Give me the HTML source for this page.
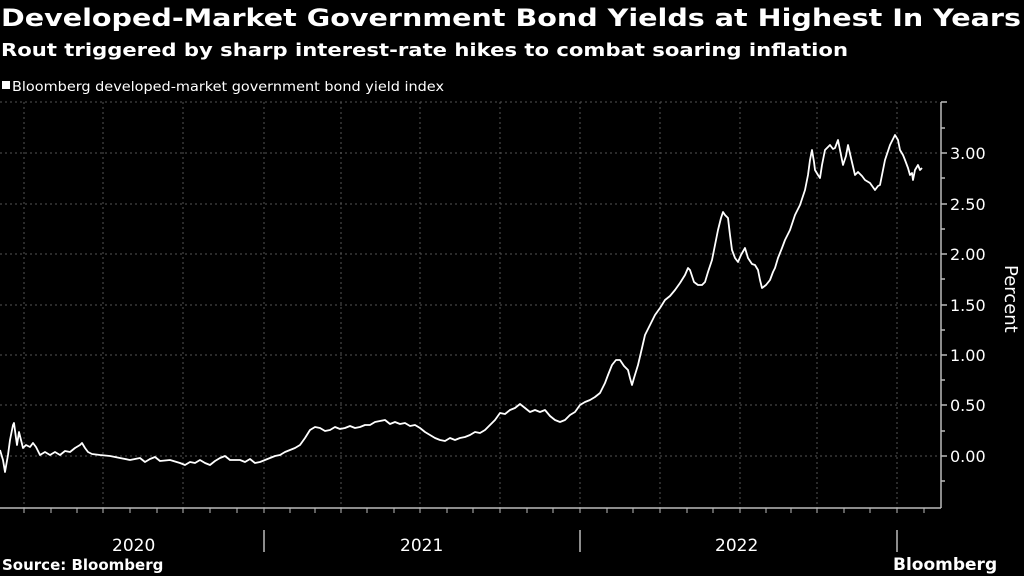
<!DOCTYPE html>
<html><head><meta charset="utf-8"><style>
html,body{margin:0;padding:0;background:#000;width:1024px;height:576px;overflow:hidden}
svg{display:block}
text{font-family:"DejaVu Sans","Liberation Sans",sans-serif;fill:#fff}
</style></head><body>
<svg width="1024" height="576" viewBox="0 0 1024 576">
<text x="1" y="26" font-size="24" font-weight="bold" textLength="1020" lengthAdjust="spacingAndGlyphs">Developed-Market Government Bond Yields at Highest In Years</text>
<text x="1" y="56" font-size="18" font-weight="bold" textLength="847" lengthAdjust="spacingAndGlyphs">Rout triggered by sharp interest-rate hikes to combat soaring inflation</text>
<rect x="2" y="81" width="8" height="8" fill="#fff"/>
<text x="12" y="91" font-size="13" fill="#ddd" textLength="432" lengthAdjust="spacingAndGlyphs">Bloomberg developed-market government bond yield index</text>
<g stroke="#555" stroke-width="1" stroke-dasharray="2,3">
<line x1="0" y1="102" x2="940" y2="102"/><line x1="0" y1="153" x2="940" y2="153"/><line x1="0" y1="204" x2="940" y2="204"/><line x1="0" y1="254" x2="940" y2="254"/><line x1="0" y1="305" x2="940" y2="305"/><line x1="0" y1="355" x2="940" y2="355"/><line x1="0" y1="405" x2="940" y2="405"/><line x1="0" y1="456" x2="940" y2="456"/>
<line x1="24" y1="102" x2="24" y2="508"/><line x1="103" y1="102" x2="103" y2="508"/><line x1="183" y1="102" x2="183" y2="508"/><line x1="264" y1="102" x2="264" y2="508"/><line x1="341" y1="102" x2="341" y2="508"/><line x1="420" y1="102" x2="420" y2="508"/><line x1="500" y1="102" x2="500" y2="508"/><line x1="580" y1="102" x2="580" y2="508"/><line x1="660" y1="102" x2="660" y2="508"/><line x1="740" y1="102" x2="740" y2="508"/><line x1="817" y1="102" x2="817" y2="508"/><line x1="897" y1="102" x2="897" y2="508"/>
</g>
<line x1="0" y1="508" x2="941" y2="508" stroke="#bbb" stroke-width="1.5"/>
<line x1="941" y1="102" x2="941" y2="508" stroke="#bbb" stroke-width="1.5"/>
<g stroke="#bbb" stroke-width="1.5">
<line x1="941" y1="102" x2="947" y2="102"/><line x1="941" y1="153" x2="947" y2="153"/><line x1="941" y1="204" x2="947" y2="204"/><line x1="941" y1="254" x2="947" y2="254"/><line x1="941" y1="305" x2="947" y2="305"/><line x1="941" y1="355" x2="947" y2="355"/><line x1="941" y1="405" x2="947" y2="405"/><line x1="941" y1="456" x2="947" y2="456"/>
<line x1="941" y1="128" x2="945" y2="128"/><line x1="941" y1="178" x2="945" y2="178"/><line x1="941" y1="229" x2="945" y2="229"/><line x1="941" y1="279" x2="945" y2="279"/><line x1="941" y1="330" x2="945" y2="330"/><line x1="941" y1="380" x2="945" y2="380"/><line x1="941" y1="431" x2="945" y2="431"/><line x1="941" y1="481" x2="945" y2="481"/>
<line x1="264" y1="530" x2="264" y2="552"/><line x1="580" y1="530" x2="580" y2="552"/><line x1="897" y1="530" x2="897" y2="552"/>
</g>
<g stroke="#bbb" stroke-width="1">
<line x1="24" y1="508" x2="24" y2="513"/><line x1="51" y1="508" x2="51" y2="513"/><line x1="77" y1="508" x2="77" y2="513"/><line x1="103" y1="508" x2="103" y2="513"/><line x1="130" y1="508" x2="130" y2="513"/><line x1="157" y1="508" x2="157" y2="513"/><line x1="183" y1="508" x2="183" y2="513"/><line x1="210" y1="508" x2="210" y2="513"/><line x1="237" y1="508" x2="237" y2="513"/><line x1="264" y1="508" x2="264" y2="513"/><line x1="290" y1="508" x2="290" y2="513"/><line x1="315" y1="508" x2="315" y2="513"/><line x1="341" y1="508" x2="341" y2="513"/><line x1="367" y1="508" x2="367" y2="513"/><line x1="394" y1="508" x2="394" y2="513"/><line x1="420" y1="508" x2="420" y2="513"/><line x1="447" y1="508" x2="447" y2="513"/><line x1="473" y1="508" x2="473" y2="513"/><line x1="500" y1="508" x2="500" y2="513"/><line x1="527" y1="508" x2="527" y2="513"/><line x1="553" y1="508" x2="553" y2="513"/><line x1="580" y1="508" x2="580" y2="513"/><line x1="607" y1="508" x2="607" y2="513"/><line x1="633" y1="508" x2="633" y2="513"/><line x1="660" y1="508" x2="660" y2="513"/><line x1="687" y1="508" x2="687" y2="513"/><line x1="713" y1="508" x2="713" y2="513"/><line x1="740" y1="508" x2="740" y2="513"/><line x1="766" y1="508" x2="766" y2="513"/><line x1="791" y1="508" x2="791" y2="513"/><line x1="817" y1="508" x2="817" y2="513"/><line x1="844" y1="508" x2="844" y2="513"/><line x1="870" y1="508" x2="870" y2="513"/><line x1="897" y1="508" x2="897" y2="513"/><line x1="924" y1="508" x2="924" y2="513"/>
</g>
<g font-size="16">
<text x="950" y="159">3.00</text><text x="950" y="210">2.50</text><text x="950" y="260">2.00</text><text x="950" y="311">1.50</text><text x="950" y="361">1.00</text><text x="950" y="411">0.50</text><text x="950" y="462">0.00</text>
<text x="112" y="551" font-size="17">2020</text><text x="400" y="551" font-size="17">2021</text><text x="715" y="551" font-size="17">2022</text>
</g>
<text transform="translate(1005,265) rotate(90)" font-size="18">Percent</text>
<text x="2" y="570" font-size="15" font-weight="bold">Source: Bloomberg</text>
<text x="893" y="570" font-size="17" font-weight="bold">Bloomberg</text>
<polyline fill="none" stroke="#fff" stroke-width="1.8" stroke-linejoin="round" points="0,450 3,460 5,472 8,455 10,440 13,425 14,423 16,438 17,445 19,432 20,436 23,448 26,445 30,447 33,443 36,447 40,455 45,452 50,455 55,452 60,455 65,451 70,452 75,448 80,445 82,443 85,448 88,452 92,454 100,455 110,456 120,458 130,460 140,458 145,462 150,459 155,457 160,461 170,460 180,463 185,465 190,462 195,463 200,460 205,463 210,465 215,461 220,458 225,456 230,460 240,460 245,462 250,459 255,463 260,462 265,460 270,458 275,456 280,455 285,452 290,450 295,448 300,445 305,438 310,430 315,427 320,428 325,431 330,430 335,427 340,429 345,428 350,426 355,428 360,427 365,425 370,425 375,422 380,421 385,420 390,424 395,422 400,424 405,423 410,426 415,425 420,428 425,432 430,435 435,438 440,440 445,441 450,438 455,440 460,438 465,437 470,435 475,432 480,433 485,430 490,425 495,420 500,413 505,414 510,410 515,408 520,404 525,408 530,412 535,410 540,412 545,410 550,416 555,420 560,422 565,420 570,415 575,412 580,405 585,402 590,400 595,397 600,393 605,383 608,375 612,365 616,360 620,360 624,366 628,370 630,378 632,385 634,378 638,365 642,348 645,335 650,325 655,315 660,308 665,300 670,296 675,290 680,283 685,275 688,268 690,270 694,282 698,285 702,285 705,282 708,272 712,260 715,245 718,230 721,218 723,212 725,215 728,218 730,235 732,250 735,258 738,262 741,255 745,248 748,258 752,264 755,265 758,270 760,280 762,288 766,285 770,280 773,272 775,268 778,258 782,248 785,240 790,230 795,215 800,205 805,190 808,175 810,160 812,150 814,162 815,170 818,175 820,178 822,165 825,150 828,147 830,145 833,149 835,148 838,140 840,150 843,165 846,156 848,145 851,158 855,175 858,172 862,176 865,180 870,183 875,190 878,186 880,185 882,175 885,160 890,145 895,135 898,140 900,150 903,155 905,160 908,168 910,175 912,173 913,180 915,170 918,165 920,170 922,168"/>
</svg>
</body></html>
